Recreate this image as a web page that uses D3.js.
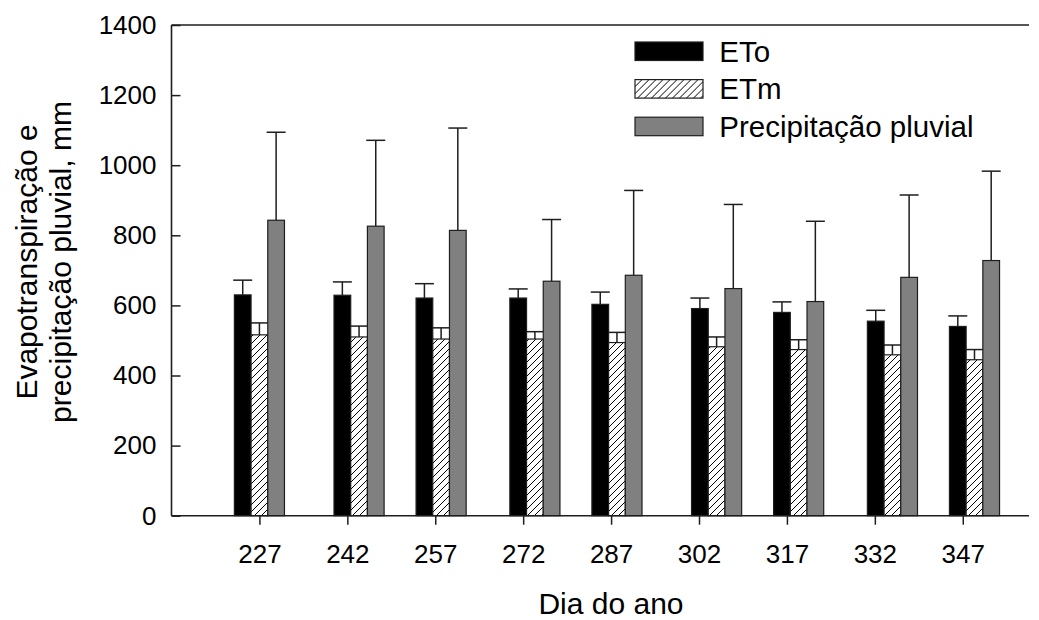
<!DOCTYPE html>
<html>
<head>
<meta charset="utf-8">
<script src="https://cdn.jsdelivr.net/npm/d3@7"></script>
<style>
  html, body { margin: 0; padding: 0; background: #fff; }
  svg { display: block; font-family: "Liberation Sans", Arial, sans-serif; }
</style>
</head>
<body>
<svg id="chart" width="1039" height="620"></svg>
<script>
// Sampling days (bar positions) and the day-of-year tick labels
const days = [227, 244, 258, 274, 288, 305, 319, 335, 349];
const tickDays = [227, 242, 257, 272, 287, 302, 317, 332, 347];
const yTicks = [0, 200, 400, 600, 800, 1000, 1200, 1400];

// Accumulated values (mm) with their upper error bars
const eto = [630, 629, 621, 621, 603, 591, 580, 555, 540];
const etoErr = [42, 38, 41, 26, 35, 30, 30, 31, 30];
const etm = [516, 510, 504, 504, 494, 482, 474, 459, 445];
const etmErr = [34, 31, 32, 21, 29, 28, 28, 28, 29];
const prec = [843, 826, 814, 669, 686, 648, 611, 680, 728];
const precErr = [251, 245, 292, 176, 242, 240, 229, 235, 255];

const seriesNames = ["ETo", "ETm", "Precipitação pluvial"];

const svg = d3.select("#chart");
const plotL = 171.5, plotR = 1029, plotT = 25, plotB = 515.7;
const barW = 16.7, capW = 19;
const ink = "#1e1e1e";

const x = d3.scaleLinear().domain([212, 358.3]).range([plotL, plotR]);
const y = d3.scaleLinear().domain([0, 1400]).range([plotB, plotT]);

// Diagonal hatch for ETm
const defs = svg.append("defs");
const pat = defs.append("pattern")
  .attr("id", "hatch").attr("patternUnits", "userSpaceOnUse")
  .attr("width", 7).attr("height", 7);
pat.append("rect").attr("width", 7).attr("height", 7).attr("fill", "#fff");
pat.append("path").attr("d", "M-1,8 L8,-1 M-2,2 L2,-2 M5,9 L9,5")
  .attr("stroke", "#000").attr("stroke-width", 1);

const series = [
  { name: seriesNames[0], vals: eto, err: etoErr, fill: "#000", off: -1 },
  { name: seriesNames[1], vals: etm, err: etmErr, fill: "url(#hatch)", off: 0 },
  { name: seriesNames[2], vals: prec, err: precErr, fill: "#808080", off: 1 }
];

// Error bars (drawn first, bars on top)
series.forEach(s => {
  const g = svg.append("g");
  days.forEach((d, i) => {
    const cx = x(d) + s.off * barW;
    const y0 = y(s.vals[i]), y1 = y(s.vals[i] + s.err[i]);
    g.append("line").attr("x1", cx).attr("x2", cx).attr("y1", y0).attr("y2", y1)
      .attr("stroke", ink).attr("stroke-width", 1.5);
    g.append("line").attr("x1", cx - capW / 2).attr("x2", cx + capW / 2)
      .attr("y1", y1).attr("y2", y1).attr("stroke", ink).attr("stroke-width", 1.5);
  });
});

// Bars
series.forEach(s => {
  svg.append("g").selectAll("rect").data(s.vals).join("rect")
    .attr("x", (v, i) => x(days[i]) + s.off * barW - barW / 2)
    .attr("width", barW)
    .attr("y", v => y(v))
    .attr("height", v => plotB - y(v))
    .attr("fill", s.fill)
    .attr("stroke", ink).attr("stroke-width", 1.2);
});

// Axes
const xAxis = d3.axisBottom(x).tickValues(tickDays).tickSize(9).tickPadding(20)
  .tickFormat(d3.format("d"));
const gx = svg.append("g").attr("transform", `translate(0,${plotB})`).call(xAxis);
gx.select(".domain").remove();
gx.selectAll(".tick line").attr("stroke", ink).attr("stroke-width", 1.5);
gx.selectAll(".tick text").attr("font-size", 26).attr("fill", "#000")
  .attr("font-family", "Liberation Sans, Arial, sans-serif");

const yAxis = d3.axisLeft(y).tickValues(yTicks).tickSize(-9).tickPadding(15)
  .tickFormat(d3.format("d"));
const gy = svg.append("g").attr("transform", `translate(${plotL},0)`).call(yAxis);
gy.select(".domain").remove();
gy.selectAll(".tick line").attr("stroke", ink).attr("stroke-width", 1.5);
gy.selectAll(".tick text").attr("font-size", 26).attr("fill", "#000")
  .attr("x", -15)
  .attr("font-family", "Liberation Sans, Arial, sans-serif");

// Frame: left, bottom and top lines
const frame = svg.append("g").attr("stroke", ink).attr("stroke-width", 1.6).attr("fill", "none");
frame.append("line").attr("x1", plotL).attr("x2", plotL).attr("y1", plotT).attr("y2", plotB);
frame.append("line").attr("x1", plotL).attr("x2", plotR).attr("y1", plotB).attr("y2", plotB);
frame.append("line").attr("x1", plotL).attr("x2", plotR).attr("y1", plotT).attr("y2", plotT);

// Legend
const leg = svg.append("g").attr("transform", "translate(635,42)");
series.forEach((s, i) => {
  const row = leg.append("g").attr("transform", `translate(0,${i * 37.6})`);
  row.append("rect").attr("width", 68).attr("height", 18.5)
    .attr("fill", s.fill).attr("stroke", ink).attr("stroke-width", 1.2);
  row.append("text").attr("x", 84.3).attr("y", 9.3).attr("dy", "0.35em")
    .attr("font-size", 29.5).text(s.name);
});

// Axis titles
svg.append("text").attr("x", 611).attr("y", 614)
  .attr("text-anchor", "middle").attr("font-size", 30).text("Dia do ano");

const yt = svg.append("text").attr("transform", "translate(0,262) rotate(-90)")
  .attr("text-anchor", "middle").attr("font-size", 30);
yt.append("tspan").attr("x", 0).attr("y", 37).text("Evapotranspiração e");
yt.append("tspan").attr("x", 0).attr("y", 71).text("precipitação pluvial, mm");
</script>
</body>
</html>
